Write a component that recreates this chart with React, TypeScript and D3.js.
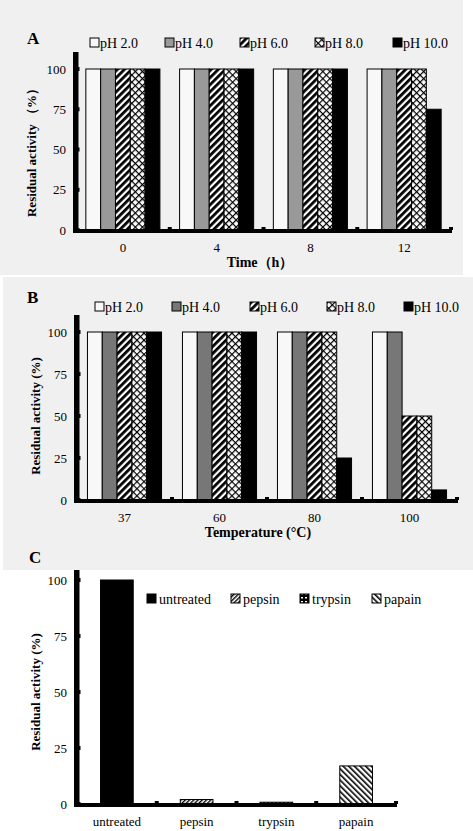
import React from "react";
import * as d3 from "d3";

const seriesPH = ["pH 2.0", "pH 4.0", "pH 6.0", "pH 8.0", "pH 10.0"];
const timeCats = ["0", "4", "8", "12"];
const timeVals = [
  [100, 100, 100, 100, 100],
  [100, 100, 100, 100, 100],
  [100, 100, 100, 100, 100],
  [100, 100, 100, 100, 75],
];
const tempCats = ["37", "60", "80", "100"];
const tempVals = [
  [100, 100, 100, 100, 100],
  [100, 100, 100, 100, 100],
  [100, 100, 100, 100, 25],
  [100, 100, 50, 50, 6],
];
const enzCats = ["untreated", "pepsin", "trypsin", "papain"];
const enzVals = [100, 2, 0.8, 17];
const yTicks = [0, 25, 50, 75, 100];

const FONT = "'Liberation Serif', 'Times New Roman', serif";

type PanelProps = {
  cats: string[];
  vals: number[][];
  fills: string[];
  x0: number; x1: number; y0: number; y100: number; axisTop: number;
  padIn: number;
  xTitle: string; xTitleX: number; yTitle: string; yTitleX: number;
  legendY: number; legendXs: number[]; legendNames: string[];
};

function Axes({ x0, x1, y0, yScale, axisTop, tickXs }: any) {
  return (
    <g>
      <rect x={x0 - 3} y={axisTop} width={5.5} height={y0 - axisTop + 3} fill="#000" />
      <rect x={x0 - 3} y={y0 - 1} width={x1 - x0 + 4} height={4} fill="#000" />
      {yTicks.map((t) => (
        <rect key={t} x={x0 + 1} y={yScale(t) - 2} width={2.5} height={4} fill="#000" />
      ))}
      {tickXs.map((tx: number, i: number) => (
        <rect key={i} x={tx - 2} y={y0 - 3} width={4} height={3} fill="#000" />
      ))}
      {yTicks.map((t) => (
        <text key={"l" + t} x={x0 - 10} y={yScale(t)} dy="0.35em" textAnchor="end"
          fontSize={13} fontFamily={FONT}>{t}</text>
      ))}
    </g>
  );
}

function GroupedPanel(p: PanelProps) {
  const xs = d3.scaleBand<string>().domain(p.cats).range([p.x0, p.x1]).paddingInner(p.padIn).paddingOuter(p.padIn / 2);
  const xi = d3.scaleBand<number>().domain(d3.range(p.vals[0].length)).range([0, xs.bandwidth()]);
  const y = d3.scaleLinear().domain([0, 100]).range([p.y0, p.y100]);
  const step = xs.step();
  const tickXs = p.cats.map((c) => (xs(c) as number) + xs.bandwidth() + (step - xs.bandwidth()) / 2);
  const yMid = (p.y0 + p.y100) / 2;
  return (
    <g>
      {p.vals.map((row, ci) => (
        <g key={ci} transform={`translate(${xs(p.cats[ci])},0)`}>
          {row.map((v, si) => (
            <rect key={si} x={xi(si)} y={y(v)} width={xi.bandwidth()} height={p.y0 - y(v)}
              fill={p.fills[si]} stroke="#000" strokeWidth={1} />
          ))}
        </g>
      ))}
      <Axes x0={p.x0} x1={p.x1} y0={p.y0} yScale={y} axisTop={p.axisTop} tickXs={tickXs} />
      {p.cats.map((c) => (
        <text key={c} x={(xs(c) as number) + xs.bandwidth() / 2} y={p.y0 + 22} textAnchor="middle"
          fontSize={13} fontFamily={FONT}>{c}</text>
      ))}
      <text x={p.xTitleX} y={p.y0 + 37} textAnchor="middle" fontSize={14}
        fontWeight="bold" fontFamily={FONT}>{p.xTitle}</text>
      <text transform={`translate(${p.yTitleX},${yMid}) rotate(-90)`} textAnchor="middle"
        fontSize={13} fontWeight="bold" fontFamily={FONT}>{p.yTitle}</text>
      {p.legendNames.map((n, i) => (
        <g key={n}>
          <rect x={p.legendXs[i]} y={p.legendY - 5} width={9} height={9} fill={p.fills[i]} stroke="#000" strokeWidth={1} />
          <text x={p.legendXs[i] + 10} y={p.legendY} dy="0.35em" fontSize={14} fontFamily={FONT}>{n}</text>
        </g>
      ))}
    </g>
  );
}

export default function App() {
  const cx0 = 77, cx1 = 396, cy0 = 804, cy100 = 580;
  const xc = d3.scaleBand<string>().domain(enzCats).range([cx0, cx1]).paddingInner(0.59).paddingOuter(0.295);
  const yc = d3.scaleLinear().domain([0, 100]).range([cy0, cy100]);
  const cFills = ["#000", "url(#pepsin)", "url(#trypsin)", "url(#papain)"];
  const cTickXs = enzCats.map((c) => (xc(c) as number) + xc.bandwidth() + (xc.step() - xc.bandwidth()) / 2);
  const cLegendXs = [147, 231, 300, 372];

  const fillsA = ["#f8f8f8", "#999999", "url(#stripe)", "url(#cross)", "#000"];
  const fillsB = ["#f8f8f8", "#777777", "url(#stripe)", "url(#cross)", "#000"];

  return (
    <svg width={473} height={831} style={{ position: "absolute", left: 0, top: 0, background: "#fff" }}>
      <defs>
        <pattern id="stripe" patternUnits="userSpaceOnUse" width={5} height={5} patternTransform="rotate(45)">
          <rect width={5} height={5} fill="#fff" />
          <rect width={2.8} height={5} fill="#000" />
        </pattern>
        <pattern id="cross" patternUnits="userSpaceOnUse" width={5} height={5} patternTransform="rotate(45)">
          <rect width={5} height={5} fill="#fff" />
          <rect width={1.2} height={5} fill="#000" />
          <rect width={5} height={1.2} fill="#000" />
        </pattern>
        <pattern id="papain" patternUnits="userSpaceOnUse" width={4} height={4} patternTransform="rotate(-45)">
          <rect width={4} height={4} fill="#fff" />
          <rect width={1.6} height={4} fill="#000" />
        </pattern>
        <pattern id="pepsin" patternUnits="userSpaceOnUse" width={3} height={3} patternTransform="rotate(45)">
          <rect width={3} height={3} fill="#fff" />
          <rect width={1.4} height={3} fill="#000" />
        </pattern>
        <pattern id="trypsin" patternUnits="userSpaceOnUse" width={4} height={4}>
          <rect width={4} height={4} fill="#000" />
          <rect x={1} y={1} width={2} height={1.5} fill="#fff" />
        </pattern>
      </defs>
      <rect x={0} y={0} width={463} height={275} fill="#f0f0f0" />
      <rect x={3} y={277} width={470} height={293} fill="#f0f0f0" />

      <text x={27} y={44} fontSize={17} fontWeight="bold" fontFamily={FONT}>A</text>
      <GroupedPanel cats={timeCats} vals={timeVals} fills={fillsA}
        x0={76} x1={451} y0={230} y100={69} axisTop={52} padIn={0.21}
        xTitle="Time（h）" xTitleX={260} yTitle="Residual activity （%）" yTitleX={36}
        legendY={43} legendXs={[90, 165, 240, 315, 393]} legendNames={seriesPH} />

      <text x={27} y={303} fontSize={17} fontWeight="bold" fontFamily={FONT}>B</text>
      <GroupedPanel cats={tempCats} vals={tempVals} fills={fillsB}
        x0={77} x1={457} y0={500} y100={332} axisTop={315} padIn={0.22}
        xTitle="Temperature (°C)" xTitleX={258} yTitle="Residual activity (%)" yTitleX={40}
        legendY={307} legendXs={[95, 172, 250, 327, 404]} legendNames={seriesPH} />

      <text x={29} y={563} fontSize={17} fontWeight="bold" fontFamily={FONT}>C</text>
      <g>
        {enzVals.map((v, i) => (
          <rect key={i} x={xc(enzCats[i])} y={yc(v)} width={xc.bandwidth()} height={cy0 - yc(v)}
            fill={cFills[i]} stroke="#000" strokeWidth={1} />
        ))}
        <Axes x0={cx0} x1={cx1} y0={cy0} yScale={yc} axisTop={570} tickXs={cTickXs} />
        {enzCats.map((c) => (
          <text key={c} x={(xc(c) as number) + xc.bandwidth() / 2} y={cy0 + 22} textAnchor="middle"
            fontSize={13} fontFamily={FONT}>{c}</text>
        ))}
        <text transform={`translate(40,${(cy0 + cy100) / 2}) rotate(-90)`} textAnchor="middle"
          fontSize={13} fontWeight="bold" fontFamily={FONT}>Residual activity (%)</text>
        {enzCats.map((n, i) => (
          <g key={n}>
            <rect x={cLegendXs[i]} y={594} width={9} height={9} fill={cFills[i]} stroke="#000" strokeWidth={1} />
            <text x={cLegendXs[i] + 12} y={599} dy="0.35em" fontSize={14} fontFamily={FONT}>{n}</text>
          </g>
        ))}
      </g>
    </svg>
  );
}
